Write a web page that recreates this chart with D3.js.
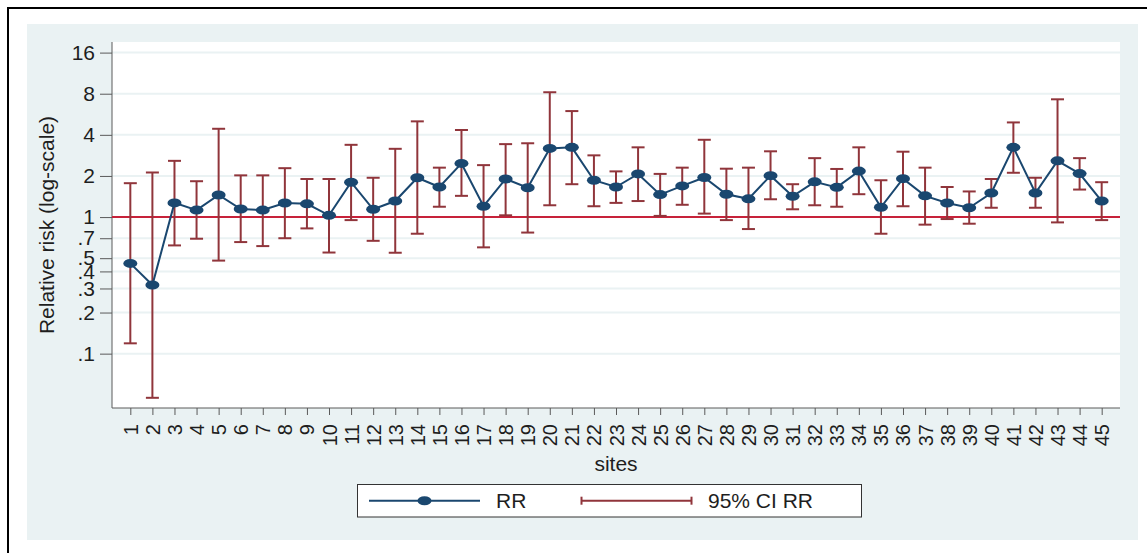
<!DOCTYPE html>
<html>
<head>
<meta charset="utf-8">
<script src="https://cdn.jsdelivr.net/npm/d3@7"></script>
<style>
  html, body { margin: 0; padding: 0; background: #ffffff; }
  svg { display: block; font-family: "Liberation Sans", Arial, Helvetica, sans-serif; }
</style>
</head>
<body>
<svg id="chart" width="1147" height="553"></svg>
<script>
// ---- data ----
const sites = d3.range(1, 46);
const rr = [0.458, 0.318, 1.27, 1.125, 1.45, 1.145, 1.125, 1.267, 1.25, 1.03,
            1.80, 1.14, 1.31, 1.94, 1.66, 2.47, 1.20, 1.90, 1.64, 3.18,
            3.24, 1.86, 1.66, 2.07, 1.46, 1.69, 1.95, 1.47, 1.36, 2.01,
            1.42, 1.81, 1.65, 2.17, 1.18, 1.91, 1.43, 1.267, 1.17, 1.50,
            3.24, 1.50, 2.58, 2.08, 1.31];
const ciUpper = [1.77, 2.12, 2.58, 1.83, 4.43, 2.02, 2.02, 2.28, 1.90, 1.90,
                 3.38, 1.94, 3.16, 5.02, 2.30, 4.34, 2.40, 3.42, 3.47, 8.2,
                 5.97, 2.83, 2.16, 3.24, 2.07, 2.30, 3.68, 2.26, 2.30, 3.03,
                 1.74, 2.70, 2.25, 3.24, 1.86, 3.01, 2.30, 1.66, 1.54, 1.90,
                 4.93, 1.94, 7.28, 2.70, 1.80];
const ciLower = [0.119, 0.0475, 0.62, 0.694, 0.48, 0.656, 0.613, 0.70, 0.826, 0.55,
                 0.95, 0.67, 0.548, 0.755, 1.19, 1.43, 0.60, 1.03, 0.77, 1.22,
                 1.74, 1.20, 1.27, 1.31, 1.02, 1.23, 1.06, 0.95, 0.817, 1.35,
                 1.14, 1.22, 1.19, 1.47, 0.755, 1.20, 0.88, 0.967, 0.894, 1.17,
                 2.11, 1.17, 0.914, 1.59, 0.95];
const yTickValues = [0.1, 0.2, 0.3, 0.4, 0.5, 0.7, 1, 2, 4, 8, 16];
const yTickLabels = [".1", ".2", ".3", ".4", ".5", ".7", "1", "2", "4", "8", "16"];
const refValue = 1;
const yTitle = "Relative risk (log-scale)";
const xTitle = "sites";
const legendLabels = ["RR", "95% CI RR"];

// ---- layout ----
const svg = d3.select("#chart");
const plot = { left: 112, right: 1120, top: 42, bottom: 408 };
const colors = { rr: "#1a476f", ci: "#90353b", ref: "#c7223a", bg: "#eaf2f3", axis: "#5a5a5a", text: "#1e1e1e" };

const x = d3.scaleLinear().domain([0.17, 45.83]).range([plot.left, plot.right]);
const y = d3.scaleLog().domain([0.04, 19.13]).range([plot.bottom, plot.top]);

// outer frame & graph region
svg.append("rect").attr("x", 8).attr("y", 8).attr("width", 1160).attr("height", 560)
  .attr("fill", "#ffffff").attr("stroke", "#000").attr("stroke-width", 2);
svg.append("rect").attr("x", 27).attr("y", 24).attr("width", 1111).attr("height", 516)
  .attr("fill", colors.bg);
svg.append("rect").attr("x", plot.left).attr("y", plot.top)
  .attr("width", plot.right - plot.left).attr("height", plot.bottom - plot.top)
  .attr("fill", "#ffffff");

// grid lines
svg.append("g").selectAll("line").data(yTickValues).join("line")
  .attr("x1", plot.left).attr("x2", plot.right)
  .attr("y1", d => y(d)).attr("y2", d => y(d))
  .attr("stroke", colors.bg).attr("stroke-width", 2);

// y axis
const yAxis = d3.axisLeft(y).tickValues(yTickValues)
  .tickFormat((d, i) => yTickLabels[i]).tickSize(12).tickPadding(5);
const gy = svg.append("g").attr("transform", `translate(${plot.left},0)`).call(yAxis);
gy.select(".domain").attr("stroke", colors.axis).attr("d", `M0,${plot.top}V${plot.bottom}`);
gy.selectAll(".tick line").attr("stroke", colors.axis);
gy.selectAll(".tick text").attr("font-size", 21).attr("fill", colors.text)
  .attr("font-family", "Liberation Sans, Arial, sans-serif");

// x axis
const xAxis = d3.axisBottom(x).tickValues(sites).tickFormat(d3.format("d"))
  .tickSize(7).tickPadding(0);
const gx = svg.append("g").attr("transform", `translate(0,${plot.bottom})`).call(xAxis);
gx.select(".domain").attr("stroke", colors.axis).attr("d", `M${plot.left},0H${plot.right}`);
gx.selectAll(".tick line").attr("stroke", colors.axis);
gx.selectAll(".tick text").attr("font-size", 20).attr("fill", colors.text)
  .attr("font-family", "Liberation Sans, Arial, sans-serif")
  .attr("text-anchor", "end").attr("dy", "0.35em")
  .attr("transform", "translate(0,16) rotate(-90)")
  .attr("x", 0).attr("y", 0);

// reference line
svg.append("line").attr("x1", plot.left).attr("x2", plot.right)
  .attr("y1", y(refValue)).attr("y2", y(refValue))
  .attr("stroke", colors.ref).attr("stroke-width", 2);

// CI bars
const capW = 6.5;
const ci = svg.append("g").attr("stroke", colors.ci).attr("stroke-width", 2).attr("fill", "none");
sites.forEach((s, i) => {
  const cx = x(s);
  ci.append("line").attr("x1", cx).attr("x2", cx).attr("y1", y(ciLower[i])).attr("y2", y(ciUpper[i]));
  ci.append("line").attr("x1", cx - capW).attr("x2", cx + capW).attr("y1", y(ciLower[i])).attr("y2", y(ciLower[i]));
  ci.append("line").attr("x1", cx - capW).attr("x2", cx + capW).attr("y1", y(ciUpper[i])).attr("y2", y(ciUpper[i]));
});

// RR line + markers
const line = d3.line().x((d, i) => x(sites[i])).y(d => y(d));
svg.append("path").datum(rr).attr("d", line)
  .attr("fill", "none").attr("stroke", colors.rr).attr("stroke-width", 2);
svg.append("g").selectAll("ellipse").data(rr).join("ellipse")
  .attr("cx", (d, i) => x(sites[i])).attr("cy", d => y(d))
  .attr("rx", 7).attr("ry", 4.5).attr("fill", colors.rr);

// axis titles
svg.append("text").attr("x", 616).attr("y", 471).attr("text-anchor", "middle")
  .attr("font-size", 21).attr("fill", colors.text).text(xTitle);
svg.append("text").attr("transform", `translate(54,${(plot.top + plot.bottom) / 2}) rotate(-90)`)
  .attr("text-anchor", "middle").attr("font-size", 21).attr("fill", colors.text).text(yTitle);

// legend
const lg = svg.append("g");
lg.append("rect").attr("x", 357.5).attr("y", 484.5).attr("width", 504).attr("height", 32.5)
  .attr("fill", "#ffffff").attr("stroke", "#333").attr("stroke-width", 1);
const ly = 500.7;
lg.append("line").attr("x1", 369).attr("x2", 480).attr("y1", ly).attr("y2", ly)
  .attr("stroke", colors.rr).attr("stroke-width", 2);
lg.append("ellipse").attr("cx", 424.5).attr("cy", ly).attr("rx", 7).attr("ry", 4.5).attr("fill", colors.rr);
lg.append("text").attr("x", 496).attr("y", ly).attr("dy", "0.36em").attr("font-size", 21)
  .attr("fill", colors.text).text(legendLabels[0]);
lg.append("line").attr("x1", 581.5).attr("x2", 691.5).attr("y1", ly).attr("y2", ly)
  .attr("stroke", colors.ci).attr("stroke-width", 2);
[581.5, 691.5].forEach(xx => lg.append("line").attr("x1", xx).attr("x2", xx)
  .attr("y1", ly - 4).attr("y2", ly + 4).attr("stroke", colors.ci).attr("stroke-width", 2));
lg.append("text").attr("x", 708).attr("y", ly).attr("dy", "0.36em").attr("font-size", 21)
  .attr("fill", colors.text).text(legendLabels[1]);
</script>
</body>
</html>
